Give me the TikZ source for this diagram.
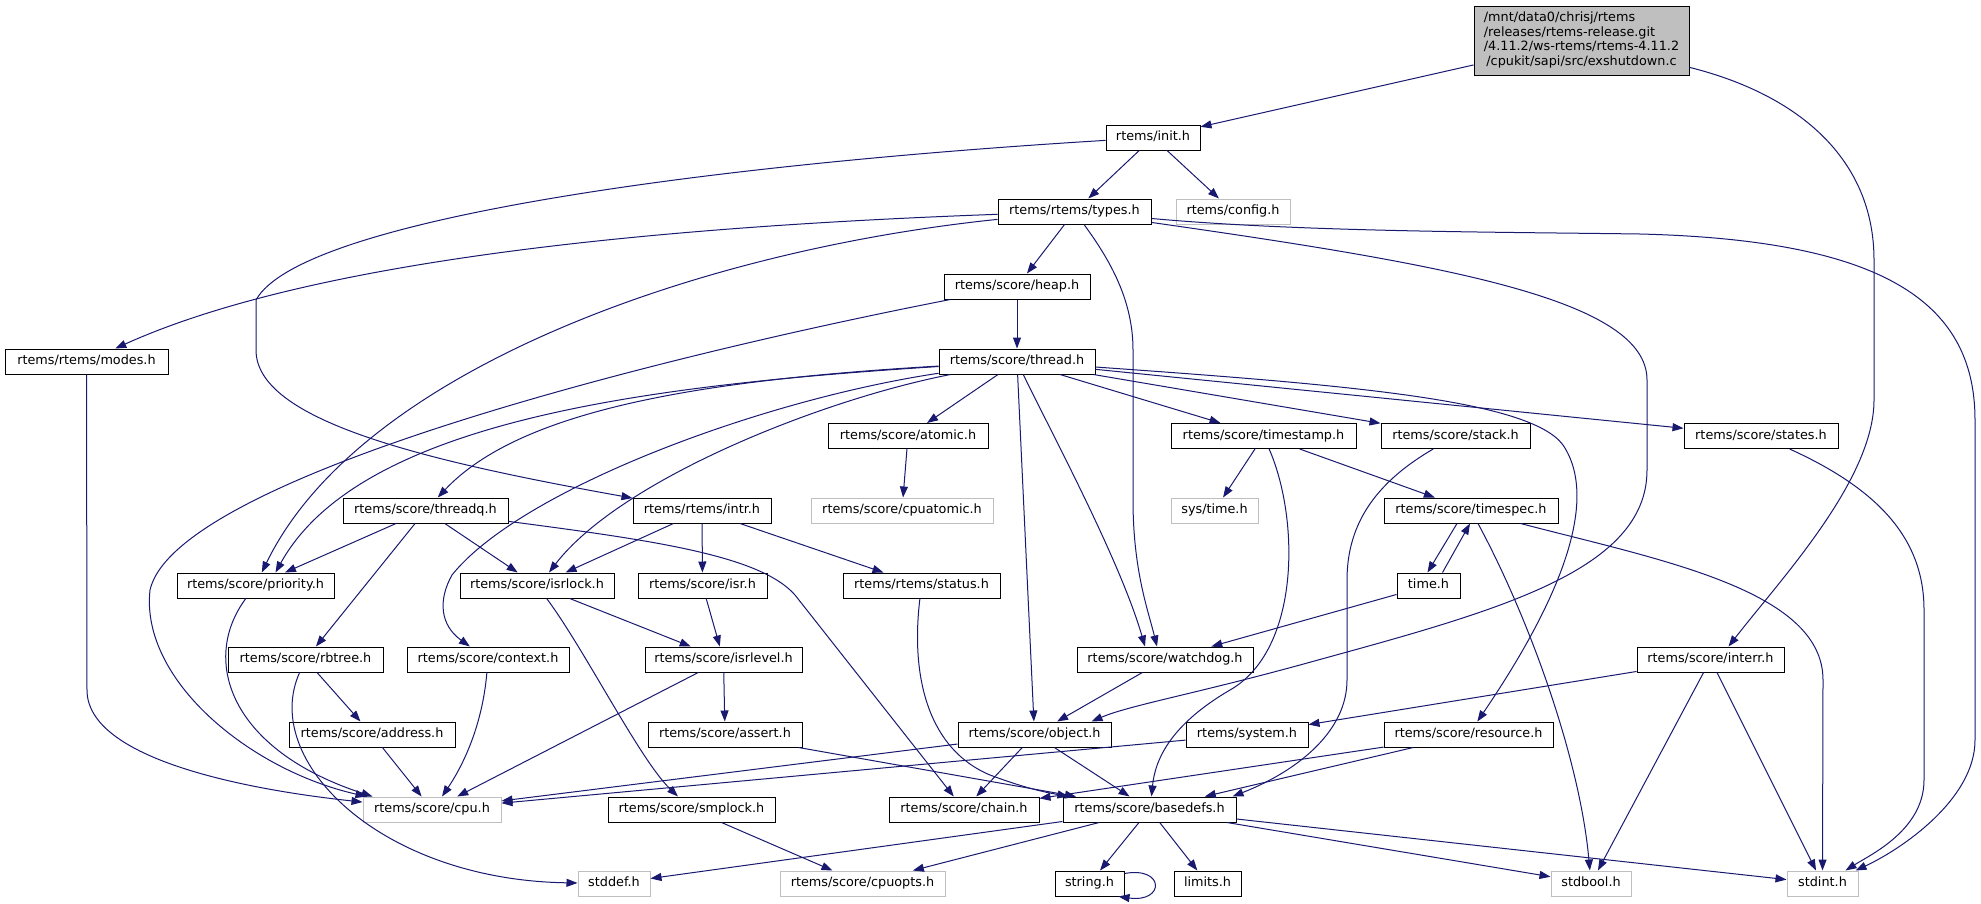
\documentclass[tikz,border=0pt]{standalone}
\usepackage{fontspec}
\newfontfamily\dvs{DejaVu Sans}
\usetikzlibrary{arrows.meta}
\definecolor{edgecol}{HTML}{191970}
\definecolor{graybd}{HTML}{BFBFBF}
\begin{document}
\begin{tikzpicture}[x=1pt,y=-1pt,
 nf/.style={font=\dvs\fontsize{12.8pt}{14.7pt}\selectfont},
 box/.style={nf, draw=black, line width=1pt, fill=white, minimum height=25pt, inner sep=0pt, text height=9.3pt, text depth=2.7pt, anchor=center},
 gbox/.style={box, draw=graybd},
 mainbox/.style={nf, draw=black, line width=1pt, fill=graybd, minimum height=69pt, inner sep=0pt, anchor=center},
 arr/.style={draw=edgecol, line width=1pt, -{Triangle[length=11pt,width=8pt]}},
]
\fill[white] (0,0) rectangle (1981,903);
\useasboundingbox (0,0) rectangle (1981,903);

% nodes
\node[mainbox, minimum width=215pt] (main) at (1581.5,40.5) {\begin{tabular}{@{}l@{}}/mnt/data0/chrisj/rtems\\/releases/rtems-release.git\\/4.11.2/ws-rtems/rtems-4.11.2\\\multicolumn{1}{@{}c@{}}{/cpukit/sapi/src/exshutdown.c}\end{tabular}};
\node[box, minimum width=94pt] (init) at (1153,137.5) {rtems/init.h};
\node[box, minimum width=153pt] (types) at (1074.5,211.5) {rtems/rtems/types.h};
\node[gbox, minimum width=114pt] (config) at (1233,211.5) {rtems/config.h};
\node[box, minimum width=146pt] (heap) at (1017,286.5) {rtems/score/heap.h};
\node[box, minimum width=163pt] (modes) at (86.5,361.5) {rtems/rtems/modes.h};
\node[box, minimum width=156pt] (thread) at (1017,361.5) {rtems/score/thread.h};
\node[box, minimum width=160pt] (atomic) at (908,436) {rtems/score/atomic.h};
\node[box, minimum width=185pt] (timestamp) at (1263.5,436) {rtems/score/timestamp.h};
\node[box, minimum width=149pt] (stack) at (1455.5,436) {rtems/score/stack.h};
\node[box, minimum width=154pt] (states) at (1761,436) {rtems/score/states.h};
\node[box, minimum width=165pt] (threadq) at (425.5,510.5) {rtems/score/threadq.h};
\node[box, minimum width=138pt] (intr) at (702,510.5) {rtems/rtems/intr.h};
\node[gbox, minimum width=182pt] (cpuatomic) at (902,510.5) {rtems/score/cpuatomic.h};
\node[gbox, minimum width=87pt] (systime) at (1214.5,510.5) {sys/time.h};
\node[box, minimum width=174pt] (timespec) at (1471,510.5) {rtems/score/timespec.h};
\node[box, minimum width=157pt] (priority) at (255.5,585.5) {rtems/score/priority.h};
\node[box, minimum width=154pt] (isrlock) at (537,585.5) {rtems/score/isrlock.h};
\node[box, minimum width=129pt] (isr) at (702.5,585.5) {rtems/score/isr.h};
\node[box, minimum width=157pt] (status) at (921.5,585.5) {rtems/rtems/status.h};
\node[box, minimum width=63pt] (time) at (1428.5,585.5) {time.h};
\node[box, minimum width=155pt] (rbtree) at (305.5,659.5) {rtems/score/rbtree.h};
\node[box, minimum width=162pt] (context) at (488,659.5) {rtems/score/context.h};
\node[box, minimum width=157pt] (isrlevel) at (723.5,659.5) {rtems/score/isrlevel.h};
\node[box, minimum width=176pt] (watchdog) at (1165,659.5) {rtems/score/watchdog.h};
\node[box, minimum width=147pt] (interr) at (1710.5,659.5) {rtems/score/interr.h};
\node[box, minimum width=166pt] (address) at (372,734.5) {rtems/score/address.h};
\node[box, minimum width=154pt] (assert) at (725,734.5) {rtems/score/assert.h};
\node[box, minimum width=153pt] (object) at (1034.5,734.5) {rtems/score/object.h};
\node[box, minimum width=122pt] (system) at (1247,734.5) {rtems/system.h};
\node[box, minimum width=169pt] (resource) at (1468.5,734.5) {rtems/score/resource.h};
\node[gbox, minimum width=138pt] (cpu) at (432,809.5) {rtems/score/cpu.h};
\node[box, minimum width=167pt] (smplock) at (691.5,809.5) {rtems/score/smplock.h};
\node[box, minimum width=150pt] (chain) at (964,809.5) {rtems/score/chain.h};
\node[box, minimum width=173pt] (basedefs) at (1149.5,809.5) {rtems/score/basedefs.h};
\node[gbox, minimum width=72pt] (stddef) at (614,883.5) {stddef.h};
\node[gbox, minimum width=165pt] (cpuopts) at (862.5,883.5) {rtems/score/cpuopts.h};
\node[box, minimum width=69pt] (string) at (1089.5,883.5) {string.h};
\node[box, minimum width=67pt] (limits) at (1207.5,883.5) {limits.h};
\node[gbox, minimum width=80pt] (stdbool) at (1591,883.5) {stdbool.h};
\node[gbox, minimum width=71pt] (stdint) at (1822.5,883.5) {stdint.h};

% edges
\draw[arr] (main) -- (init);
\draw[arr] (main) .. controls (1800,95) and (1874,160) .. (1874,260) -- (1874,400) .. controls (1874,480) and (1780,580) .. ([xshift=18pt]interr.north);
\draw[arr] (init) -- (types);
\draw[arr] (init) -- (config);
\draw[arr] (init) .. controls (700,165) and (300,220) .. (256,300) -- (256,350) .. controls (256,420) and (420,460) .. (intr);
\draw[arr] (types) .. controls (620,228) and (300,265) .. (modes);
\draw[arr] (types) -- (heap);
\draw[arr] (types) .. controls (700,250) and (360,370) .. (priority);
\draw[arr] (types) .. controls (1110,260) and (1133,300) .. (1133,350) -- (1133,500) .. controls (1133,570) and (1148,610) .. ([xshift=-8pt]watchdog.north);
\draw[arr] (types) .. controls (1450,265) and (1647,300) .. (1647,380) -- (1647,470) .. controls (1647,570) and (1500,610) .. (1318,660) .. controls (1200,693) and (1130,705) .. ([xshift=-20pt]object.north east);
\draw[arr] (types) .. controls (1300,232) and (1500,232) .. (1640,234) .. controls (1880,240) and (1975,300) .. (1975,420) -- (1975,740) .. controls (1975,800) and (1900,850) .. ([xshift=-3pt]stdint.north east);
\draw[arr] (heap) -- (thread);
\draw[arr] (heap) .. controls (640,360) and (175,480) .. (150,590) .. controls (140,680) and (250,770) .. ([xshift=4pt]cpu.north west);
\draw[arr] (modes) -- (87,690) .. controls (87,760) and (250,790) .. (cpu);
\draw[arr] (thread) -- (atomic);
\draw[arr] (thread) -- (timestamp);
\draw[arr] (thread) -- (stack);
\draw[arr] (thread) -- (states);
\draw[arr] (thread) .. controls (1350,385) and (1530,400) .. (1563,445) .. controls (1600,500) and (1560,600) .. (resource);
\draw[arr] (thread) -- (object);
\draw[arr] (thread) .. controls (1050,430) and (1120,560) .. ([xshift=-20pt]watchdog.north);
\draw[arr] (thread) .. controls (820,400) and (620,480) .. ([xshift=12pt]isrlock.north);
\draw[arr] (thread) .. controls (760,400) and (520,490) .. (452,575) .. controls (438,600) and (440,625) .. (context);
\draw[arr] (thread) .. controls (700,380) and (520,410) .. (threadq);
\draw[arr] (thread) .. controls (650,385) and (360,420) .. ([xshift=20pt]priority.north);
\draw[arr] (atomic) -- (cpuatomic);
\draw[arr] (timestamp) -- (systime);
\draw[arr] (timestamp) -- (timespec);
\draw[arr] (timestamp) .. controls (1300,520) and (1300,650) .. (1230,690) .. controls (1170,725) and (1155,760) .. ([xshift=2pt]basedefs.north);
\draw[arr] (stack) .. controls (1380,480) and (1347,520) .. (1347,580) -- (1347,680) .. controls (1347,730) and (1300,770) .. ([xshift=-4pt]basedefs.north east);
\draw[arr] (states) .. controls (1880,490) and (1924,540) .. (1924,610) -- (1924,780) .. controls (1924,830) and (1870,855) .. ([xshift=-13pt]stdint.north east);
\draw[arr] (threadq) -- (priority);
\draw[arr] (threadq) -- (isrlock);
\draw[arr] (threadq) -- (rbtree);
\draw[arr] (threadq) .. controls (650,540) and (760,555) .. (795,595) -- (chain);
\draw[arr] (intr) -- (isrlock);
\draw[arr] (intr) -- (isr);
\draw[arr] (intr) -- (status);
\draw[arr] (isrlock) -- (isrlevel);
\draw[arr] (isrlock) .. controls (585,650) and (640,760) .. (smplock);
\draw[arr] (isr) -- (isrlevel);
\draw[arr] (status) .. controls (910,680) and (930,750) .. (990,775) .. controls (1030,790) and (1050,793) .. ([xshift=6pt]basedefs.north west);
\draw[arr] ([xshift=-14pt]timespec.south) -- ([xshift=-1pt]time.north);
\draw[arr] ([xshift=14pt]time.north) -- ([xshift=-1pt]timespec.south);
\draw[arr] (time) -- (watchdog);
\draw[arr] (timespec) .. controls (1530,620) and (1580,760) .. (stdbool);
\draw[arr] (timespec) .. controls (1660,560) and (1823,590) .. (1823,680) -- (stdint.north);
\draw[arr] (watchdog) -- (object);
\draw[arr] (interr) -- (system);
\draw[arr] (interr) -- (stdbool);
\draw[arr] (interr) -- (stdint);
\draw[arr] (system) -- (cpu);
\draw[arr] (object) -- (cpu);
\draw[arr] (object) -- (chain);
\draw[arr] (object) -- (basedefs);
\draw[arr] (assert) -- (basedefs);
\draw[arr] (resource) -- (chain);
\draw[arr] (resource) -- (basedefs);
\draw[arr] (rbtree) -- (address);
\draw[arr] (rbtree) .. controls (260,760) and (380,880) .. (stddef);
\draw[arr] (address) -- (cpu);
\draw[arr] (context) .. controls (482,730) and (460,770) .. ([xshift=10pt]cpu.north);
\draw[arr] (isrlevel) -- (cpu);
\draw[arr] (isrlevel) -- (assert);
\draw[arr] (priority) .. controls (200,660) and (230,750) .. ([xshift=10pt]cpu.north west);
\draw[arr] (smplock) -- (cpuopts);
\draw[arr] (basedefs) -- (stddef);
\draw[arr] (basedefs) -- (cpuopts);
\draw[arr] (basedefs) -- (string);
\draw[arr] (basedefs) -- (limits);
\draw[arr] (basedefs) -- (stdbool);
\draw[arr] (basedefs) -- (stdint);
\draw[arr] ([yshift=-3pt]string.north east) .. controls (1165,866) and (1165,903) .. ([xshift=-6pt]string.south east);
\end{tikzpicture}
\end{document}
